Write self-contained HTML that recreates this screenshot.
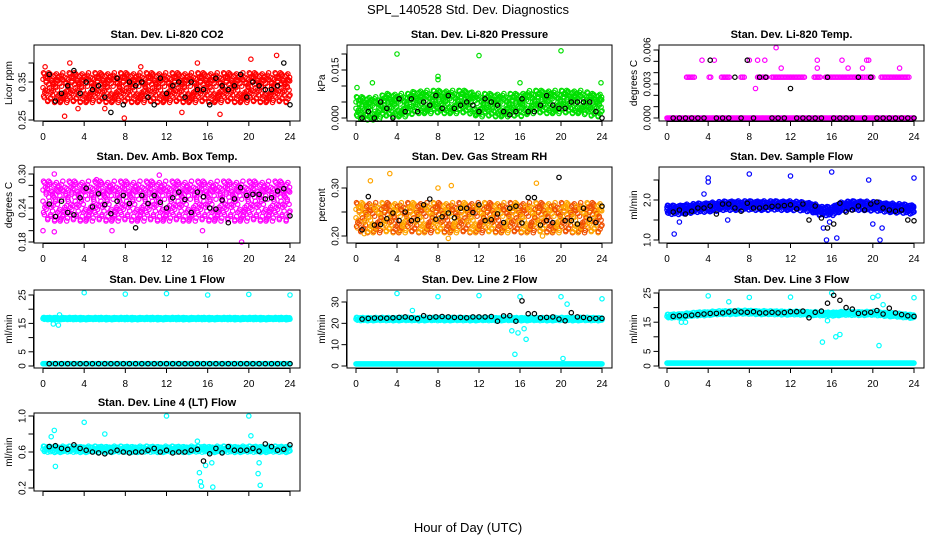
<!DOCTYPE html>
<html><head><meta charset="utf-8"><style>
body{margin:0;background:#fff;}
svg{display:block;font-family:"Liberation Sans",Arial,sans-serif;}
</style></head><body>
<svg id="c" width="936" height="540" viewBox="0 0 936 540">
<text x="468" y="14" font-size="13" text-anchor="middle">SPL_140528  Std. Dev. Diagnostics</text>
<text x="468" y="532" font-size="13" text-anchor="middle">Hour of Day (UTC)</text>
</svg>
<script>
const NS="http://www.w3.org/2000/svg";
const svg=document.getElementById('c');
const BH=[0.6,1.2,1.8,2.4,3.0,3.6,4.2,4.8,5.4,6.0,6.6,7.2,7.8,8.4,9.0,9.6,10.2,10.8,11.4,12.0,12.6,13.2,13.8,14.4,15.0,15.6,16.2,16.8,17.4,18.0,18.6,19.2,19.8,20.4,21.0,21.6,22.2,22.8,23.4,24.0];
const OFFS=[0,0.62,-0.48,0.91,-0.83,0.27,-0.15,0.98,-0.97,0.45,-0.66,0.1,0.75,-0.3,0.55,-0.9,0.35,-0.55,0.82,-0.22,0.68,-0.74,0.2,-0.4,0.5];
const xTicks=[0,4,8,12,16,20,24];

const co2Black=[0.37,0.30,0.32,0.34,0.38,0.32,0.35,0.33,0.34,0.31,0.27,0.36,0.29,0.35,0.34,0.35,0.31,0.29,0.36,0.32,0.34,0.35,0.31,0.35,0.33,0.33,0.29,0.36,0.34,0.33,0.34,0.37,0.31,0.35,0.34,0.33,0.33,0.34,0.40,0.29];
const co2Out=[[0.2,0.39],[2.1,0.26],[3.4,0.28],[7.9,0.255],[13.5,0.27],[17.2,0.265],[22.7,0.42],[20.2,0.41],[15,0.40],[2.6,0.40],[9.5,0.39],[6,0.28]];
const presBlack=[0.0,0.002,0.0,0.005,0.003,0.0,0.006,0.002,0.006,0.002,0.005,0.004,0.007,0.003,0.007,0.003,0.004,0.005,0.004,0.002,0.006,0.005,0.004,0.002,0.001,0.002,0.006,0.002,0.002,0.004,0.007,0.004,0.003,0.003,0.005,0.005,0.005,0.005,0.002,0.0];
const presOut=[[0.1,0.0095],[1.6,0.011],[4,0.020],[8,0.013],[8,0.012],[12,0.0195],[16,0.011],[20,0.021],[23.9,0.011]];
const tempBlack=[0,0,0,0,0,0,0.0051,0,0,0,0.0036,0,0.0051,0,0.0036,0.0036,0,0,0,0.0026,0,0,0,0,0,0.0036,0,0,0,0,0.0036,0,0.0036,0,0,0,0,0,0,0];
const tempOut=[[3.4,0.0051],[4.6,0.0051],[8,0.0051],[8.8,0.0051],[9.5,0.0051],[14.6,0.0051],[17,0.0051],[19.4,0.0051],[19.6,0.0051],[10.6,0.0062],[11.1,0.0044],[14.6,0.0044],[17.6,0.0044],[19,0.0044],[22.6,0.0044],[8.6,0.0026]];
const tempBand=[[1.9,2.7],[4.1,4.3],[5.3,6.1],[7.2,7.6],[8.8,9.7],[10.2,13.4],[14.3,14.9],[15.4,19.2],[19.4,20.1],[20.8,23.6]];
const boxBlack=[0.247,0.225,0.252,0.232,0.228,0.258,0.275,0.242,0.265,0.246,0.23,0.252,0.262,0.248,0.205,0.262,0.248,0.262,0.25,0.24,0.258,0.268,0.255,0.232,0.268,0.26,0.24,0.238,0.254,0.214,0.256,0.276,0.262,0.264,0.264,0.256,0.258,0.27,0.274,0.226];
const boxOut=[[1.1,0.30],[19.3,0.18],[0,0.20],[1.1,0.198],[11.3,0.298],[6.7,0.20],[15.5,0.20],[5.2,0.29]];
const rhBlack=[0.213,0.282,0.223,0.224,0.236,0.248,0.232,0.25,0.232,0.234,0.265,0.277,0.235,0.24,0.248,0.238,0.258,0.258,0.249,0.265,0.232,0.234,0.246,0.228,0.258,0.262,0.227,0.280,0.280,0.223,0.232,0.228,0.322,0.232,0.232,0.225,0.258,0.235,0.228,0.262];
const rhOut=[[1.4,0.315],[3.3,0.33],[9,0.195],[8,0.30],[17.6,0.31],[18.2,0.20],[9.3,0.305],[0.8,0.205]];
const flowCenter=[1.75,1.75,1.78,1.8,1.82,1.84,1.86,1.86,1.86,1.86,1.86,1.86,1.86,1.84,1.82,1.72,1.72,1.84,1.86,1.86,1.84,1.82,1.8,1.78,1.76];
const flowBlack=[1.7,1.75,1.65,1.72,1.8,1.8,1.85,1.65,1.9,1.9,1.8,1.72,1.92,1.8,1.8,1.82,1.84,1.85,1.86,1.88,1.78,1.9,1.5,1.85,1.55,1.3,1.4,1.92,1.7,1.75,1.85,1.75,1.9,1.95,1.8,1.75,1.72,1.75,1.5,1.48];
const flowOut=[[0.7,1.15],[1.2,1.45],[3.6,2.15],[4,2.55],[4,2.45],[5.9,1.5],[8,2.65],[12,2.6],[15.5,1.0],[16,2.7],[16.5,1.05],[19.6,2.5],[20,1.4],[20.7,1.0],[20.9,1.3],[24,2.55],[15.2,1.3],[15.8,1.45]];
const l1Black=BH.map(()=>0.8);
const l1Out=[[4,25.8],[8,25.3],[12,25.5],[16,25],[20,25.2],[24,25],[1.0,14.8],[1.5,14.4],[1.6,18]];
const l2Center=[22,22,22,22,22,22,22,22,22,22,22,22,22,22,22,22,22,22,22,22,22,22,22,22,22];
const l2Black=[22,22.3,22.5,22.5,22.4,22.6,22.8,23,22.6,22.2,23.6,22.8,23,23.2,23,22.8,22.8,22.6,23,23,23,23.2,21,23.5,23.6,21,30.5,24.5,24.5,22.6,22.8,23,22,21.2,25,23,22.8,22.2,22.3,22.3];
const l2Out=[[4,34],[8,32.5],[12,33],[16,32.5],[20,32.5],[24,31.5],[15.2,16.5],[15.8,15.5],[15.5,5.5],[16.6,12.5],[16.4,17.5],[20.6,29],[20.2,3.5],[5.5,26]];
const l3Center=[17,17.2,17.5,17.8,18,18.2,18.3,18.4,18.4,18.3,18.2,18.2,18.1,18.1,18,17.8,17.8,18,18,18,18,17.8,17.5,17.2,17];
const l3Black=[17,17.2,17.2,17.4,17.6,17.8,18,18,18.2,18.5,18.8,18.5,18.4,18.6,18.2,18.2,18.4,18.2,18.3,18.6,18.6,18.8,16.5,18.4,18.8,21.5,24.2,22.5,20,19.5,18,18.2,18.4,19,17.8,19.8,18.2,17.6,17.2,17];
const l3Out=[[4,24],[8,23.5],[12,23.6],[16,25],[20,23.5],[24,23.4],[1.4,15],[1.8,15],[6,22],[15.1,8.2],[16.4,10],[16.8,10.8],[20.6,7],[20.5,24],[15.6,15.5],[21,21]];
const l4Black=[0.66,0.67,0.64,0.63,0.68,0.64,0.62,0.6,0.59,0.58,0.6,0.62,0.6,0.59,0.6,0.6,0.62,0.64,0.6,0.62,0.59,0.6,0.6,0.62,0.63,0.5,0.58,0.64,0.59,0.66,0.62,0.62,0.62,0.64,0.61,0.69,0.66,0.62,0.63,0.68];
const l4Out=[[0.8,0.77],[1.1,0.84],[1.2,0.44],[4,0.93],[6,0.80],[12,1.0],[20,1.0],[20.2,0.78],[15.2,0.37],[15.4,0.22],[15.8,0.45],[16.4,0.48],[15,0.72],[20.9,0.36],[21.1,0.23],[21,0.48],[16.5,0.21],[15.3,0.27]];

function el(tag,attrs,parent){const e=document.createElementNS(NS,tag);for(const k in attrs)e.setAttribute(k,attrs[k]);(parent||svg).appendChild(e);return e;}
function interp(arr,h){const i=Math.min(Math.floor(h),arr.length-2);const f=h-i;return arr[i]*(1-f)+arr[i+1]*f;}

const COLS=[{l:34,r:300,x0:43,x24:290},{l:347,r:612,x0:356,x24:602},{l:659,r:924,x0:667,x24:914}];
const ROWS=[{t:45,b:121},{t:167,b:243},{t:290,b:368},{t:413,b:491}];

function panel(cfg){
  const C=COLS[cfg.col],R=ROWS[cfg.row];
  const g=el('g',{});
  
  
  const X=h=>C.x0+h*(C.x24-C.x0)/24;
  const Y=v=>cfg.p0+(v-cfg.v0)*(cfg.p1-cfg.p0)/(cfg.v1-cfg.v0);
  const t=el('text',{x:(C.l+C.r)/2,y:R.t-7,'font-size':11,'font-weight':'bold','text-anchor':'middle'},g);
  t.textContent=cfg.title;
  
  
  const mk=(h,v,col,nm)=>{const c=el('circle',{cx:X(h).toFixed(1),cy:Y(v).toFixed(1),r:2.2,fill:'none',stroke:col,'stroke-width':1.2},g);return c;};
  if(cfg.center){
    for(let i=0;i<=240;i++){const h=i/10;const cen=interp(cfg.center,h);
      for(let j=0;j<cfg.dens;j++){const o=OFFS[(i*3+j*7)%OFFS.length];
        const jx=OFFS[(i*5+j*3+4)%OFFS.length]*0.05;
        const col=cfg.alt&&((i+j)%2)?cfg.alt:cfg.color;
        mk(Math.max(0,Math.min(24,h+jx)),cen+o*cfg.spread,col,'cloud-point');}}
  }
  if(cfg.bands){cfg.bands.forEach(b=>{for(let h=b[0];h<=b[1]+1e-6;h+=0.15)mk(h,cfg.bandVal,cfg.color,'band-point');});}
  if(cfg.bottom!==undefined){for(let i=0;i<=240;i+=1)mk(i/10,cfg.bottom,cfg.color,'baseline-point');}
  (cfg.out||[]).forEach(p=>mk(p[0],p[1],cfg.color,'outlier-point'));
  cfg.black.forEach((v,i)=>mk(BH[i],v,'#000','black-point'));
  const bx=el('rect',{x:C.l,y:R.t,width:C.r-C.l,height:R.b-R.t,fill:'none',stroke:'#000','stroke-width':1},g);
  
  el('line',{x1:X(0),x2:X(24),y1:R.b+0.5,y2:R.b+0.5,stroke:'#000'},g);
  xTicks.forEach(h=>{el('line',{x1:X(h),x2:X(h),y1:R.b,y2:R.b+5,stroke:'#000'},g);
    if(cfg.row!==3){const tx=el('text',{x:X(h),y:R.b+19,'font-size':10,'text-anchor':'middle'},g);tx.textContent=h;
    }});
  const ya=C.l-0.5;
  el('line',{x1:ya,x2:ya,y1:Y(cfg.ticks[0]),y2:Y(cfg.ticks[cfg.ticks.length-1]),stroke:'#000'},g);
  cfg.ticks.forEach(v=>{el('line',{x1:ya-5,x2:ya,y1:Y(v),y2:Y(v),stroke:'#000'},g);});
  cfg.labels.forEach(s=>{const v=parseFloat(s);const tx=el('text',{x:0,y:0,'font-size':10,'text-anchor':'middle',transform:`translate(${ya-8},${Y(v)}) rotate(-90)`},g);tx.textContent=s;
    });
  const yt=el('text',{x:0,y:0,'font-size':10,'text-anchor':'middle',transform:`translate(${C.l-22},${(R.t+R.b)/2}) rotate(-90)`},g);yt.textContent=cfg.ylab;
  
}
const flat=(v)=>Array(25).fill(v);
panel({name:'panel-co2',col:0,row:0,title:'Stan. Dev. Li-820 CO2',ylab:'Licor ppm',v0:0.25,p0:120,v1:0.35,p1:82,ticks:[0.25,0.30,0.35,0.40],labels:['0.25','0.35'],center:flat(0.335),spread:0.04,dens:3,color:'#f00',out:co2Out,black:co2Black});
panel({name:'panel-pressure',col:1,row:0,title:'Stan. Dev. Li-820 Pressure',ylab:'kPa',v0:0,p0:118,v1:0.015,p1:70,ticks:[0,0.005,0.01,0.015,0.02],labels:['0.000','0.015'],center:[0.003,0.003,0.003,0.004,0.004,0.004,0.005,0.005,0.005,0.005,0.005,0.005,0.004,0.004,0.004,0.004,0.004,0.005,0.005,0.005,0.005,0.005,0.005,0.004,0.004],spread:0.0037,dens:3,color:'#00e000',out:presOut,black:presBlack});
panel({name:'panel-li820-temp',col:2,row:0,title:'Stan. Dev. Li-820 Temp.',ylab:'degrees C',v0:0,p0:118,v1:0.006,p1:50,ticks:[0,0.001,0.002,0.003,0.004,0.005,0.006],labels:['0.000','0.003','0.006'],bands:tempBand,bandVal:0.0036,bottom:0,color:'#f0f',out:tempOut,black:tempBlack});
panel({name:'panel-box-temp',col:0,row:1,title:'Stan. Dev. Amb. Box Temp.',ylab:'degrees C',v0:0.18,p0:242,v1:0.30,p1:174,ticks:[0.18,0.20,0.22,0.24,0.26,0.28,0.30],labels:['0.18','0.24','0.30'],center:flat(0.252),spread:0.036,dens:3,color:'#f0f',out:boxOut,black:boxBlack});
panel({name:'panel-rh',col:1,row:1,title:'Stan. Dev. Gas Stream RH',ylab:'percent',v0:0.20,p0:236,v1:0.30,p1:188,ticks:[0.20,0.25,0.30],labels:['0.20','0.30'],center:flat(0.238),spread:0.032,dens:3,color:'#ffa500',alt:'#f05000',out:rhOut,black:rhBlack});
panel({name:'panel-sample-flow',col:2,row:1,title:'Stan. Dev. Sample Flow',ylab:'ml/min',v0:1.0,p0:240,v1:2.0,p1:200,ticks:[1.0,1.5,2.0,2.5],labels:['1.0','2.0'],center:flowCenter,spread:0.12,dens:3,color:'#00f',out:flowOut,black:flowBlack});
panel({name:'panel-line1-flow',col:0,row:2,title:'Stan. Dev. Line 1 Flow',ylab:'ml/min',v0:0,p0:366,v1:25,p1:295,ticks:[0,5,10,15,20,25],labels:['0','5','15','25'],center:flat(16.7),spread:0.4,dens:2,bottom:0.8,color:'#0ff',out:l1Out,black:l1Black});
panel({name:'panel-line2-flow',col:1,row:2,title:'Stan. Dev. Line 2 Flow',ylab:'ml/min',v0:0,p0:366,v1:30,p1:302,ticks:[0,10,20,30],labels:['0','10','20','30'],center:l2Center,spread:0.8,dens:2,bottom:1,color:'#0ff',out:l2Out,black:l2Black});
panel({name:'panel-line3-flow',col:2,row:2,title:'Stan. Dev. Line 3 Flow',ylab:'ml/min',v0:0,p0:366,v1:25,p1:293,ticks:[0,5,10,15,20,25],labels:['0','5','15','25'],center:l3Center,spread:0.7,dens:2,bottom:1,color:'#0ff',out:l3Out,black:l3Black});
panel({name:'panel-line4-flow',col:0,row:3,title:'Stan. Dev. Line 4 (LT) Flow',ylab:'ml/min',v0:0.2,p0:488,v1:1.0,p1:416,ticks:[0.2,0.4,0.6,0.8,1.0],labels:['0.2','0.6','1.0'],center:flat(0.63),spread:0.035,dens:2,color:'#0ff',out:l4Out,black:l4Black});
</script>
</body></html>
